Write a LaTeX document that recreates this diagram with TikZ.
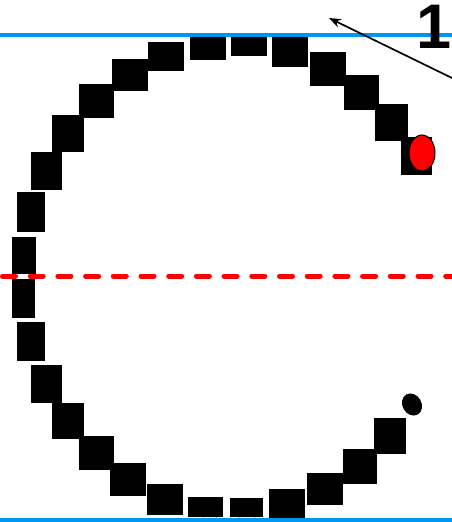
\documentclass[tikz,border=0pt]{standalone}
\usepackage{fontspec}
\setmainfont{Liberation Sans}
\usetikzlibrary{arrows.meta,shapes.geometric}
\definecolor{railblue}{RGB}{0,150,240}
\definecolor{shade}{RGB}{5,5,45}
\begin{document}
\begin{tikzpicture}[x=1pt,y=-1pt,
  block/.style={fill=black},
  rail/.style={draw=railblue, line width=4.5pt},
  midline/.style={draw=red, line width=5pt, line cap=round, dash pattern=on 13pt off 14.7pt},
  >={Stealth[length=12pt,width=9pt]}]
\useasboundingbox (0,0) rectangle (452,522);
\fill[shade] (209,44) ellipse [x radius=9, y radius=10];
\fill[shade] (247,44) ellipse [x radius=13, y radius=10];
\fill[shade] (210,509) ellipse [x radius=13, y radius=10];
\fill[shade] (247,509) ellipse [x radius=15, y radius=10];
\foreach \a/\b/\c/\d in {190/33/226/60, 148/42/184/71, 112/59/148/91, 79/84/114/118,
  52/115/84/152, 31/152/62/190, 17/192/45/232, 12/237/36/274, 12/279/35/318,
  17/322/45/361, 31/365/62/403, 52/403/84/439, 79/436/114/470, 110/463/146/496,
  147/484/183/515, 188/497/223/517, 230/498/263/517, 269/489/305/518,
  307/473/343/505, 343/449/377/484, 374/418/406/454,
  231/33/267/56, 272/33/308/67, 310/52/346/86, 344/75/379/110,
  375/104/408/141, 401/137/432/175}
  \fill[block] (\a,\b) rectangle (\c,\d);
\draw[rail] (0,35) -- (452,35);
\draw[rail] (0,519.8) -- (452,519.8);
\draw[midline] (2.5,276) -- (452,276);
\node[draw=black, fill=red, ellipse, line width=1pt, minimum width=26pt, minimum height=36pt, inner sep=0pt] (start) at (422,153) {};
\fill[black, rotate around={30:(412,404.5)}] (412,404.5) ellipse [x radius=9.5, y radius=11.5];
\node[anchor=base east, inner sep=0pt, font=\bfseries\fontsize{63}{63}\selectfont] (num) at (452,48) {1};
\coordinate (tail) at (453,78.5);
\coordinate (tip) at (329,18);
\draw[->, line width=1.7pt] (tail) -- (tip);
\end{tikzpicture}
\end{document}
